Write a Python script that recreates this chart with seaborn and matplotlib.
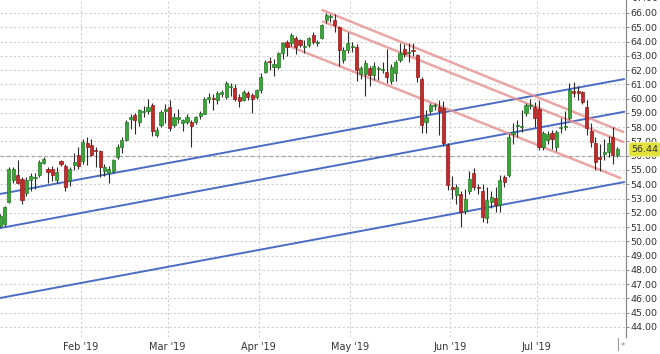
import numpy as np
import pandas as pd
import matplotlib
matplotlib.use("Agg")
import matplotlib.pyplot as plt
import matplotlib.transforms as mtransforms
from matplotlib.lines import Line2D
import seaborn as sns

# ---------------- data ----------------
opens = [51.1, 51.2, 52.75, 54.3, 54.65, 54.4, 53.4, 54.3, 54.45, 54.65,
         55.5, 55.1, 55.1, 54.3, 55.6, 55.3, 54.2, 55.35, 56.05, 55.65,
         56.9, 56.75, 56.4, 56.35, 54.9, 54.8, 54.9, 55.9, 56.6, 57.1,
         58.6, 58.85, 58.35, 59.05, 59.1, 59.55, 57.45, 58.15, 59.15, 59.4,
         58.15, 58.6, 58.3, 58.35, 58.35, 58.35, 58.75, 58.95, 60.0, 60.05,
         59.9, 60.35, 60.1, 60.8, 60.75, 60.1, 59.9, 60.4, 60.25, 60.1,
         60.6, 61.9, 62.6, 62.2, 62.2, 63.2, 63.95, 63.9, 64.25, 64.1,
         63.6, 63.75, 64.45, 63.9, 64.25, 65.5, 65.7, 65.5, 65.0, 62.7,
         63.4, 63.6, 63.6, 61.7, 61.7, 62.15, 61.65, 62.05, 62.0, 61.85,
         61.2, 61.8, 62.7, 63.5, 63.2, 63.4, 63.05, 61.4, 58.35, 59.1,
         59.45, 59.4, 59.35, 56.75, 53.75, 53.25, 53.3, 52.1, 53.5, 54.8,
         53.8, 53.5, 51.6, 52.75, 53.05, 52.55, 54.5, 54.65, 57.55, 58.05,
         58.0, 59.0, 59.5, 59.4, 59.3, 56.6, 57.1, 57.6, 56.6, 57.95,
         58.0, 58.65, 60.55, 60.55, 60.45, 59.4, 57.75, 56.9, 55.85, 56.1,
         56.25, 57.3, 56.05]
highs = [51.9, 52.5, 55.2, 55.2, 55.7, 54.5, 54.5, 54.8, 54.8, 55.7,
         55.9, 55.2, 55.3, 55.2, 55.7, 55.4, 55.2, 56.2, 56.6, 57.2,
         57.3, 57.2, 56.6, 56.4, 55.4, 55.3, 55.8, 56.8, 57.3, 58.5,
         58.9, 59.0, 59.3, 59.5, 60.0, 59.7, 58.0, 59.2, 59.6, 59.9,
         59.0, 59.3, 58.6, 58.9, 58.5, 58.8, 59.1, 60.1, 60.4, 60.3,
         60.5, 60.6, 61.2, 61.1, 61.0, 60.3, 60.6, 60.5, 60.4, 60.7,
         61.8, 62.7, 62.9, 62.8, 63.3, 64.0, 64.1, 64.6, 64.4, 64.2,
         64.1, 64.3, 64.7, 64.1, 65.25, 66.0, 65.9, 65.9, 65.1, 63.6,
         64.7, 64.0, 63.8, 62.3, 62.7, 62.3, 62.6, 62.3, 62.6, 63.5,
         62.4, 62.7, 63.9, 63.8, 63.9, 63.9, 63.1, 61.5, 59.2, 59.7,
         59.7, 59.9, 59.8, 56.9, 54.6, 54.0, 53.5, 53.7, 54.9, 55.15,
         54.0, 54.0, 53.8, 53.5, 53.8, 54.65, 54.65, 57.5, 58.3, 58.5,
         59.2, 59.7, 60.0, 59.75, 59.9, 57.7, 57.7, 57.8, 57.8, 58.65,
         59.1, 61.1, 61.15, 60.9, 60.5, 59.9, 58.3, 57.3, 56.8, 57.2,
         57.4, 58.0, 56.6]
lows = [51.0, 51.1, 52.7, 54.1, 54.0, 52.6, 53.2, 53.5, 53.7, 54.5,
        55.4, 54.1, 54.2, 54.1, 55.3, 53.5, 53.9, 55.0, 55.1, 55.4,
        55.35, 56.0, 55.2, 54.5, 54.6, 54.1, 54.8, 55.8, 56.2, 57.0,
        57.9, 57.5, 58.1, 58.7, 58.9, 57.4, 57.3, 58.0, 58.3, 57.7,
        58.0, 58.3, 57.7, 58.2, 56.6, 58.2, 58.6, 58.9, 59.7, 59.2,
        59.6, 60.1, 60.0, 60.2, 59.8, 59.4, 59.8, 59.9, 59.0, 60.0,
        60.4, 61.8, 62.0, 61.6, 62.1, 62.8, 63.0, 63.7, 63.1, 63.6,
        63.2, 63.6, 63.8, 63.7, 64.2, 65.3, 65.4, 64.7, 62.3, 62.5,
        63.2, 63.3, 61.2, 61.4, 60.2, 60.9, 61.3, 61.3, 61.8, 61.1,
        61.0, 61.2, 62.6, 62.9, 62.6, 63.0, 61.15, 57.6, 57.6, 58.9,
        59.2, 57.45, 56.7, 53.6, 53.0, 52.6, 51.0, 51.9, 53.3, 53.6,
        53.3, 51.35, 51.3, 52.3, 52.05, 52.05, 53.8, 54.5, 56.8, 57.3,
        57.65, 58.8, 59.3, 58.0, 56.4, 56.4, 56.8, 56.5, 56.3, 57.6,
        57.8, 58.5, 60.1, 59.9, 59.6, 57.45, 56.6, 55.0, 54.95, 55.7,
        55.9, 55.4, 55.9]
closes = [51.8, 52.4, 55.1, 55.1, 54.1, 52.9, 54.3, 54.6, 54.5, 55.55,
          55.8, 54.85, 54.65, 54.85, 55.45, 53.8, 55.1, 55.55, 55.25, 56.95,
          56.6, 56.05, 56.35, 55.2, 55.2, 55.1, 55.7, 56.6, 57.1, 58.35,
          58.65, 58.5, 59.2, 59.1, 59.4, 57.7, 57.8, 59.05, 59.25, 57.95,
          58.7, 58.7, 58.5, 58.7, 58.1, 58.7, 59.0, 59.95, 60.05, 59.95,
          60.4, 60.4, 61.1, 60.85, 59.95, 59.85, 60.45, 60.1, 59.95, 60.6,
          61.5, 62.55, 62.55, 62.45, 63.2, 63.9, 63.6, 64.45, 63.6, 63.75,
          63.65, 64.25, 63.95, 64.0, 65.15, 65.85, 65.75, 65.15, 63.4, 63.4,
          63.9, 63.65, 62.0, 62.15, 62.5, 61.65, 62.3, 62.1, 62.0, 61.5,
          62.2, 62.55, 63.2, 63.1, 63.3, 63.35, 61.5, 58.15, 58.7, 59.55,
          59.5, 59.15, 56.9, 53.95, 53.7, 53.8, 52.05, 53.0, 54.4, 53.8,
          53.75, 51.7, 52.9, 53.1, 52.55, 54.3, 54.15, 57.3, 57.6, 58.1,
          58.05, 59.55, 59.55, 58.65, 56.6, 57.6, 57.5, 57.15, 57.65, 58.0,
          58.05, 60.6, 60.4, 60.4, 59.75, 57.95, 56.95, 55.55, 55.8, 56.25,
          56.9, 56.05, 56.44]

month_labels = ["Feb '19", "Mar '19", "Apr '19", "May '19", "Jun '19", "Jul '19"]
month_first_bar = [19, 39, 60, 81, 104, 124]

# trend channels: anchor points (bar index, price)
blue_x = [0, 143.6]
blue_top = [53.32, 61.37]
blue_mid = [50.93, 59.08]
blue_low = [46.03, 54.15]
red_upper_x = [74.1, 143.4]
red_upper = [66.21, 57.66]
red_mid_x = [74.3, 143.4]
red_mid = [65.40, 56.96]
red_low_x = [64.9, 142.7]
red_low = [63.88, 54.44]

last_price = 56.44
ref_level = 56.0

# ---------------- style ----------------
sns.set_style("white")
plt.rcParams["font.family"] = ["DejaVu Sans"]

W, H = 660, 354
fig = plt.figure(figsize=(W / 100, H / 100), dpi=100)
ax_w = 626 / W
ax_h = 337 / H
ax = fig.add_axes([0, 1 - ax_h, ax_w, ax_h])

df = pd.DataFrame({"open": opens, "high": highs, "low": lows, "close": closes})
df["bar"] = np.arange(len(df))
up = df["close"] >= df["open"]

GREEN, GREEN_E = "#3aa63a", "#237a23"
RED, RED_E = "#c42a2a", "#8e1a1a"

# grid
for v in range(44, 67):
    ax.axhline(v, color="#cfcfcf", lw=0.8, ls=(0, (2, 2)), zorder=0)
for b in month_first_bar:
    ax.axvline(b - 0.5, color="#cfcfcf", lw=0.8, ls=(0, (2, 2)), zorder=0)
ax.axhline(ref_level, color="#a8a8a8", lw=0.9, ls=(0, (3, 2)), zorder=0.5)

# trend lines (seaborn)
for yv in (blue_top, blue_mid, blue_low):
    sns.lineplot(x=blue_x, y=yv, ax=ax, color="#4a6cc3", lw=1.4,
                 estimator=None, sort=False, zorder=3)
for xv, yv in ((red_upper_x, red_upper), (red_mid_x, red_mid), (red_low_x, red_low)):
    sns.lineplot(x=xv, y=yv, ax=ax, color="#e58f8f", lw=1.8, alpha=0.8,
                 estimator=None, sort=False, zorder=3)

# candles
ax.vlines(df["bar"], df["low"], df["high"], color="#2a2a2a", lw=0.8, zorder=4)
body_lo = np.minimum(df["open"], df["close"])
body_h = np.maximum(np.abs(df["close"] - df["open"]), 0.08)
ax.bar(df["bar"], body_h, bottom=body_lo, width=0.72,
       color=np.where(up, GREEN, RED), edgecolor=np.where(up, GREEN_E, RED_E),
       linewidth=0.5, zorder=5)

ax.set_xlim(-0.05, 144.02)
ax.set_ylim(43.295, 66.911)

# axes styling
for s in ("left", "top", "bottom"):
    ax.spines[s].set_visible(False)
ax.spines["right"].set_color("#8a8a8a")
ax.spines["right"].set_linewidth(0.9)

ax.yaxis.tick_right()
yt = np.arange(44, 67)
ax.set_yticks(yt)
ax.set_yticklabels([f"{v:.2f}" for v in yt])
ax.tick_params(axis="y", direction="out", length=2.2, width=0.7, color="#8a8a8a",
               pad=1.0, labelsize=6.8, labelcolor="#333333")
ax.set_xticks([b - 0.5 for b in month_first_bar])
ax.set_xticklabels(month_labels)
ax.tick_params(axis="x", length=0, pad=3.5, labelsize=7, labelcolor="#333333")
ax.set_xlabel("")
ax.set_ylabel("")

trans = mtransforms.blended_transform_factory(ax.transAxes, ax.transData)
# partially visible 67.00 label at top
ax.text(1.0 + 5.5 / 626, 67.0, "67.00", transform=trans, ha="left", va="center",
        fontsize=6.8, color="#333333", clip_on=False)
# last price marker
ax.text(1.0 + 5.5 / 626, last_price, f"{last_price:.2f}", transform=trans,
        ha="left", va="center", fontsize=6.8, color="#333333", clip_on=False,
        zorder=10,
        bbox=dict(boxstyle="round,pad=0.25", fc="#e2e23c", ec="#eaea90", lw=0.8))

# small marker at the bottom right
fig.add_artist(Line2D([618 / W, 618 / W], [1 - 338 / H, 1 - 350 / H],
                      color="#9a9a9a", lw=0.8))
fig.text(622.5 / W, 1 - 347 / H, "*", fontsize=6, color="#888888",
         ha="center", va="center")

fig.savefig("out.png", dpi=100)
